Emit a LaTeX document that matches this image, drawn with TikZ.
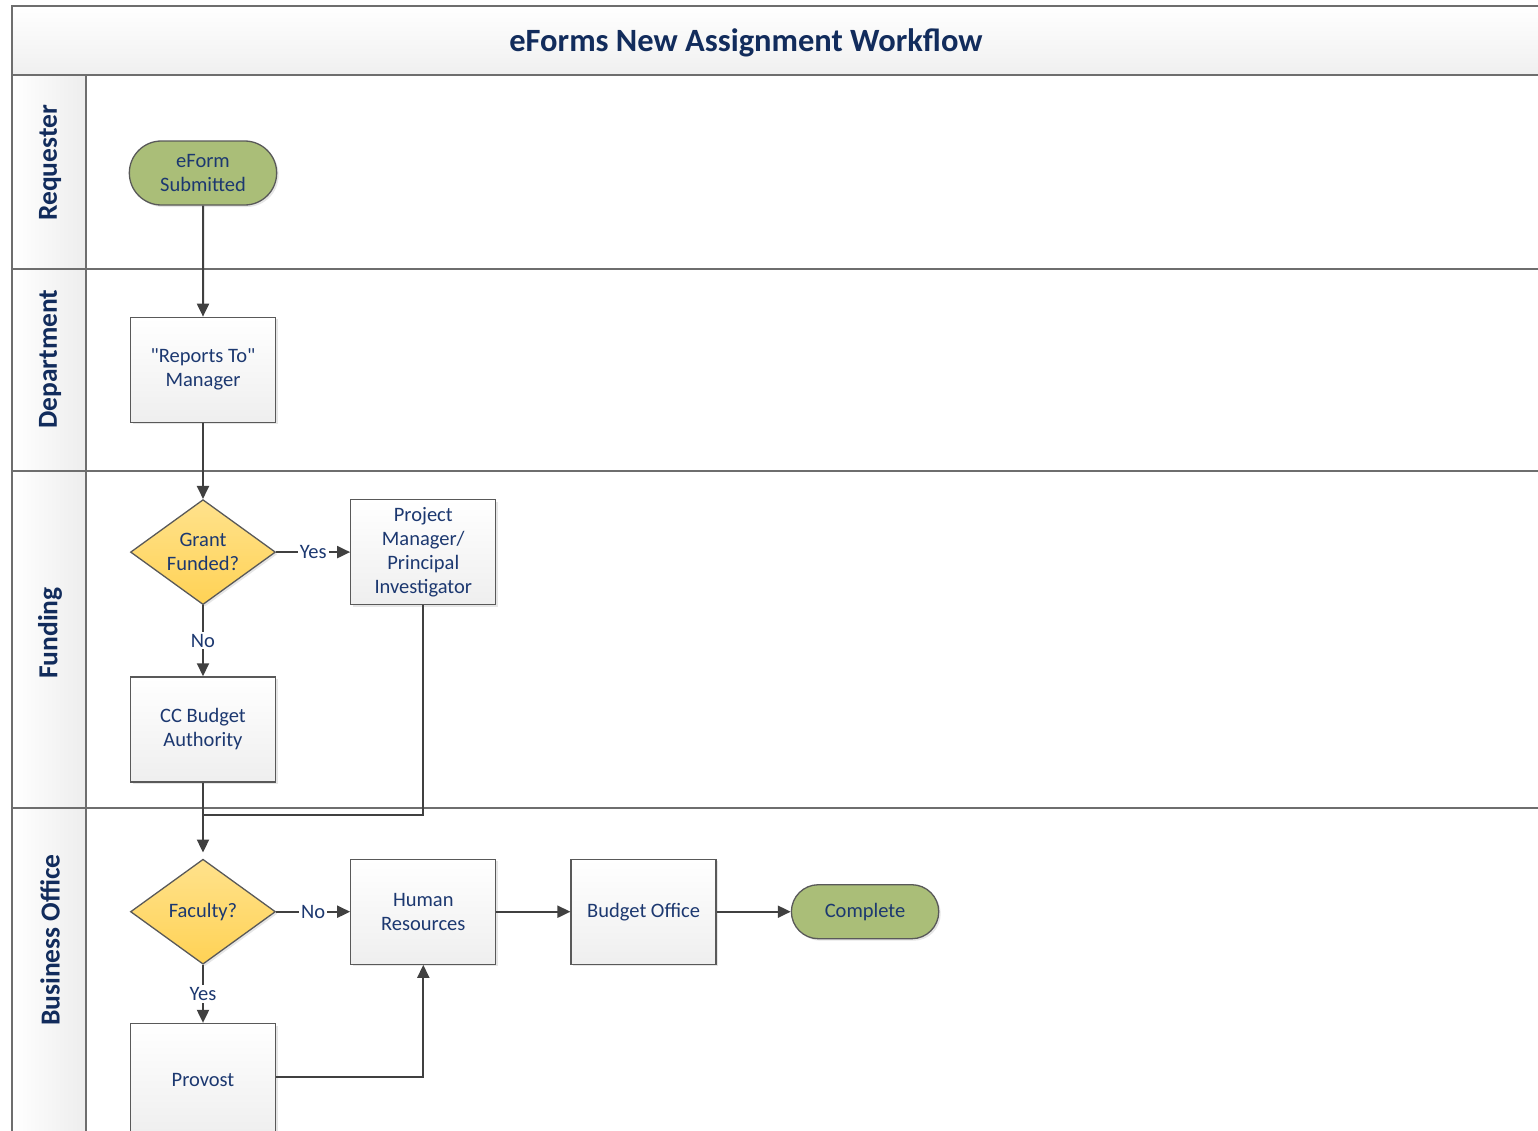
\documentclass[tikz,border=0pt]{standalone}
\usepackage{fontspec}
\setmainfont{Carlito}
\usepackage{xcolor}
\usepackage{tikz}
\usetikzlibrary{shapes,shapes.geometric,shapes.misc,arrows,arrows.meta,positioning,shadows,calc}

\definecolor{navytext}{RGB}{28,56,112}
\definecolor{navytitle}{RGB}{18,44,92}
\definecolor{laneline}{RGB}{110,110,110}
\definecolor{flowline}{RGB}{64,64,64}
\definecolor{olivefill}{RGB}{170,190,120}

\begin{document}
\begin{tikzpicture}[
    x=1pt, y=-1pt,
    node distance=75pt and 74pt,
    font=\fontsize{20.5}{24}\selectfont,
    process/.style={rectangle, draw=black!65, line width=1.3pt, top color=white, bottom color=gray!13, minimum width=145pt, minimum height=105pt, text=navytext, align=center, drop shadow={shadow xshift=2pt, shadow yshift=-2pt, opacity=0.2}},
    decision/.style={diamond, aspect=1.4, draw=black!65, line width=1.3pt, top color={rgb,255:red,255;green,226;blue,140}, bottom color={rgb,255:red,255;green,210;blue,85}, minimum width=145pt, minimum height=105pt, inner sep=0pt, text=navytext, align=center, drop shadow={shadow xshift=2pt, shadow yshift=-2pt, opacity=0.2}},
    terminal/.style={rounded rectangle, draw=black!65, line width=1.3pt, fill=olivefill, minimum width=154pt, text=navytext, align=center, drop shadow={shadow xshift=2pt, shadow yshift=-2pt, opacity=0.2}},
    lanename/.style={rotate=90, font=\fontsize{27.5}{32}\selectfont\bfseries, text=navytitle},
    choice/.style={fill=white, inner sep=2pt, text=navytext},
    arrow/.style={-{Triangle[length=13pt, width=12pt]}, line width=2pt, draw=flowline},
    line/.style={line width=2pt, draw=flowline}
]
    \useasboundingbox (0,0) rectangle (1538,1130);

    % pool and lanes
    \shade [top color=white, bottom color=gray!12] (12,6) rectangle (1545,75);
    \shade [left color=white, right color=gray!14] (12,75) rectangle (86,1135);
    \draw [laneline, line width=1.6pt] (1545,6) -- (12,6) -- (12,1135);
    \draw [laneline, line width=1.6pt] (12,75) -- (1545,75);
    \draw [laneline, line width=1.2pt] (86,75) -- (86,1135);
    \foreach \y in {269,471,808}
        \draw [laneline, line width=1.2pt] (12,\y) -- (1545,\y);

    \node (title) [font=\fontsize{32.5}{38}\selectfont\bfseries, text=navytitle] at (746,43) {eForms New Assignment Workflow};
    \node (requester) [lanename] at (50,163) {Requester};
    \node (department) [lanename] at (50,359) {Department};
    \node (funding) [lanename] at (50,633) {Funding};
    \node (business) [lanename] at (50,940) {Business Office};

    % steps
    \node (eform) [terminal, minimum height=64pt] at (203,173) {eForm\\Submitted};
    \node (manager) [process, below=111pt of eform] {\textquotedbl Reports To\textquotedbl\\Manager};
    \node (grant) [decision, below=76pt of manager] {Grant\\Funded?};
    \node (pm) [process, right=of grant] {Project\\Manager/\\Principal\\Investigator};
    \node (cc) [process, below=71pt of grant] {CC Budget\\Authority};
    \node (faculty) [decision, below=76pt of cc] {Faculty?};
    \node (hr) [process, right=of faculty] {Human\\Resources};
    \node (budget) [process, right=of hr] {Budget Office};
    \node (complete) [terminal, minimum height=54pt, right=of budget] {Complete};
    \node (provost) [process, minimum height=112pt, below=58pt of faculty] {Provost};
    \coordinate (join) at (cc.south |- 0,815);

    % flow
    \draw [arrow] (eform) -- (manager);
    \draw [arrow] (manager) -- (grant);
    \draw [arrow] (grant) -- node[choice]{Yes} (pm);
    \draw [arrow] (grant) -- node[choice]{No} (cc);
    \draw [line] (pm.south) |- (join);
    \draw [arrow, shorten >=6pt] (cc) -- (faculty);
    \draw [arrow] (faculty) -- node[choice]{No} (hr);
    \draw [arrow] (faculty) -- node[choice]{Yes} (provost);
    \draw [arrow] ([yshift=3pt]provost.east) -| (hr.south);
    \draw [arrow] (hr) -- (budget);
    \draw [arrow] (budget) -- (complete);
\end{tikzpicture}
\end{document}
